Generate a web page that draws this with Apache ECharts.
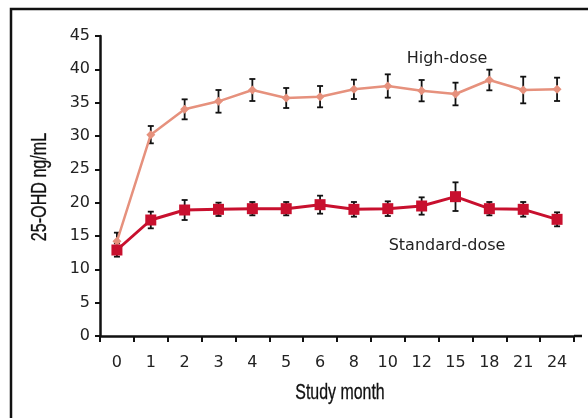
<!DOCTYPE html>
<html>
<head>
<meta charset="utf-8">
<script src="https://cdn.jsdelivr.net/npm/echarts@6/dist/echarts.min.js"></script>
<style>
html,body{margin:0;padding:0;background:#fff;}
#c{width:588px;height:418px;}
</style>
</head>
<body>
<div id="c"></div>
<script>
var months = ['0','1','2','3','4','5','6','8','10','12','15','18','21','24'];
var yTicks = [0,5,10,15,20,25,30,35,40,45];
var highDose = [14.2,30.2,34.0,35.2,36.9,35.7,35.9,37.0,37.5,36.8,36.3,38.4,36.9,37.0];
var highDoseErr = [1.3,1.3,1.5,1.7,1.65,1.5,1.6,1.45,1.75,1.6,1.7,1.55,2.0,1.75];
var stdDose = [12.9,17.4,18.9,19.0,19.1,19.1,19.7,19.0,19.1,19.5,20.9,19.1,19.0,17.5];
var stdDoseErr = [1.0,1.25,1.5,1.0,1.0,1.0,1.35,1.1,1.1,1.3,2.15,1.0,1.1,1.05];
var seriesNames = ['High-dose','Standard-dose'];
var yTitle = '25-OHD ng/mL';
var xTitle = 'Study month';

function errData(vals, errs){
  return vals.map(function(v,i){ return [i, v - errs[i], v + errs[i]]; });
}
function renderErr(params, api){
  var x = api.value(0);
  var lo = api.coord([x, api.value(1)]);
  var hi = api.coord([x, api.value(2)]);
  var hw = 3;
  var st = {stroke:'#111', lineWidth:1.8};
  return {type:'group', children:[
    {type:'line', shape:{x1:lo[0],y1:lo[1],x2:hi[0],y2:hi[1]}, style:st},
    {type:'line', shape:{x1:lo[0]-hw,y1:lo[1],x2:lo[0]+hw,y2:lo[1]}, style:st},
    {type:'line', shape:{x1:hi[0]-hw,y1:hi[1],x2:hi[0]+hw,y2:hi[1]}, style:st}
  ]};
}

var chart = echarts.init(document.getElementById('c'), null, {renderer:'canvas'});
var labelFont = 'DejaVu Sans';
var titleStyle = {font:'21.5px Liberation Sans', fill:'#111', stroke:'#111', lineWidth:0.3, textAlign:'center', textVerticalAlign:'middle'};
chart.setOption({
  animation:false,
  backgroundColor:'#fff',
  grid:{left:100, right:14, top:36, bottom:82},
  xAxis:{
    type:'category', data:months, boundaryGap:true,
    axisLine:{lineStyle:{color:'#111', width:2.5}},
    axisTick:{show:true, length:6, inside:false, lineStyle:{color:'#111', width:2}},
    axisLabel:{fontFamily:labelFont, fontSize:16, color:'#222', margin:19},
    splitLine:{show:false}
  },
  yAxis:{
    type:'value', min:yTicks[0], max:yTicks[yTicks.length-1], interval:5,
    axisLine:{show:true, lineStyle:{color:'#111', width:2.5}},
    axisTick:{show:true, length:5, lineStyle:{color:'#111', width:2}},
    axisLabel:{fontFamily:labelFont, fontSize:16, color:'#222', margin:10},
    splitLine:{show:false}
  },
  graphic:[
    {type:'rect', shape:{x:11, y:9, width:620, height:440}, style:{fill:null, stroke:'#111', lineWidth:2.5}, z:100},
    {type:'line', shape:{x1:574, y1:336, x2:582, y2:336}, style:{stroke:'#111', lineWidth:2.5}},
    {type:'text', x:340, y:393, scaleX:0.74, style:Object.assign({text:xTitle}, titleStyle)},
    {type:'text', x:40, y:187, rotation:Math.PI/2, scaleX:0.75, style:Object.assign({text:yTitle}, titleStyle)},
    {type:'text', x:447, y:59, style:{text:seriesNames[0], font:'16px DejaVu Sans', fill:'#222', textAlign:'center', textVerticalAlign:'middle'}},
    {type:'text', x:447, y:246, style:{text:seriesNames[1], font:'16px DejaVu Sans', fill:'#222', textAlign:'center', textVerticalAlign:'middle'}}
  ],
  series:[
    {type:'custom', name:'hdErr', data:errData(highDose, highDoseErr), renderItem:renderErr, z:1},
    {type:'custom', name:'sdErr', data:errData(stdDose, stdDoseErr), renderItem:renderErr, z:1},
    {type:'line', name:seriesNames[0], data:highDose, symbol:'diamond', symbolSize:9,
     lineStyle:{color:'#E6917D', width:2.5}, itemStyle:{color:'#E6917D'}, z:3},
    {type:'line', name:seriesNames[1], data:stdDose, symbol:'rect', symbolSize:11,
     lineStyle:{color:'#C8102E', width:3}, itemStyle:{color:'#C8102E'}, z:4}
  ]
});
</script>
</body>
</html>
